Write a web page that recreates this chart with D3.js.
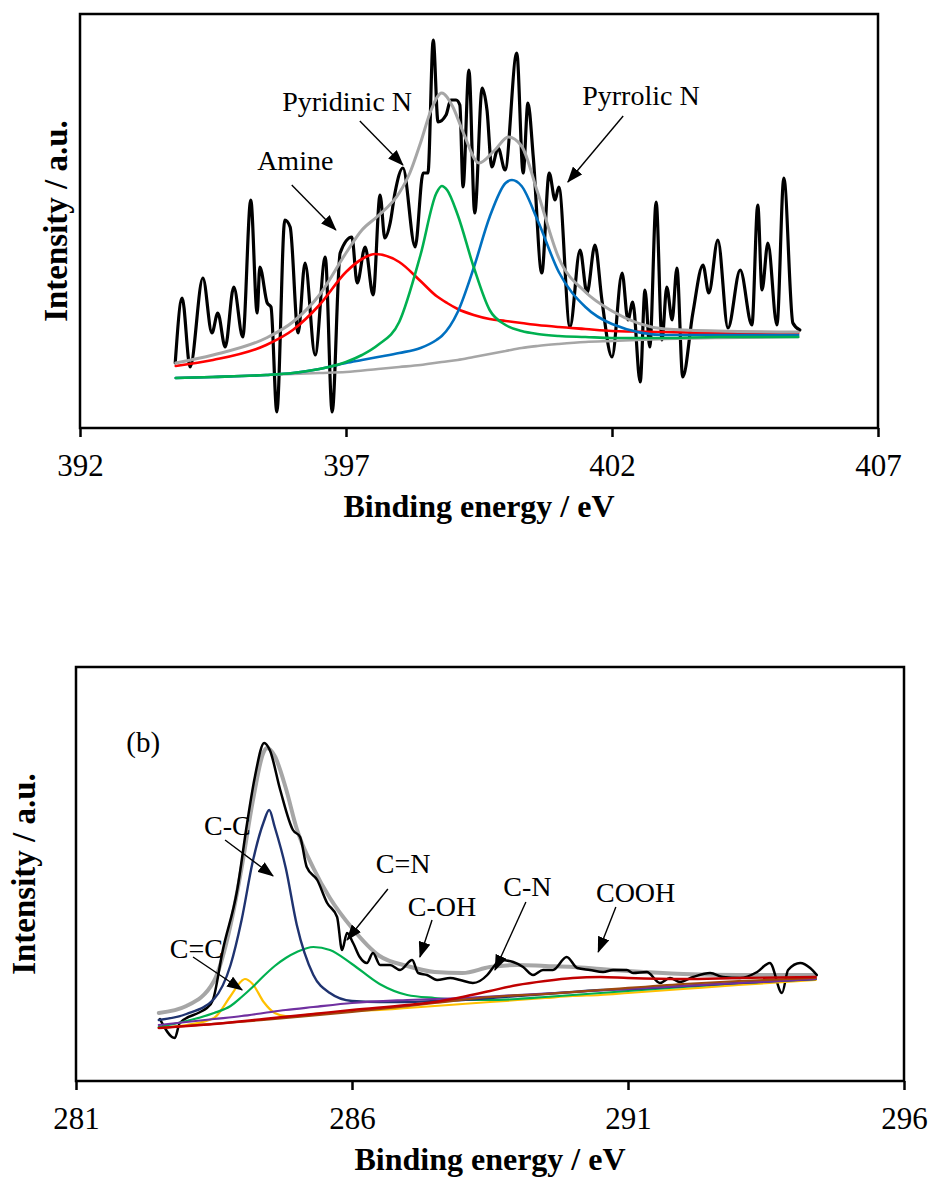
<!DOCTYPE html>
<html>
<head>
<meta charset="utf-8">
<script src="https://cdn.jsdelivr.net/npm/d3@7"></script>
<style>
  body { margin: 0; background: #fff; }
  svg { display: block; }
  text { font-family: "Liberation Serif", "Times New Roman", serif; fill: #000; }
</style>
</head>
<body>
<svg id="chart" width="932" height="1184"></svg>
<script>
// ---------- N 1s spectrum (binding energy eV, intensity a.u.) ----------
const n1sTicks = [392, 397, 402, 407];

const n1sMeasured = [
  [393.79,65],[393.92,130],[394.07,61],[394.31,150],[394.48,95],[394.59,115],[394.73,81],
  [394.89,141],[395.06,91],[395.21,228],[395.33,115],[395.38,161],[395.52,125],[395.59,121],
  [395.70,16],[395.85,208],[395.95,201],[396.10,95],[396.23,165],[396.42,73],[396.61,171],
  [396.74,16],[396.89,175],[397.11,191],[397.21,145],[397.36,181],[397.51,133],[397.64,233],
  [397.73,190],[397.83,205],[397.92,235],[398.07,260],[398.30,181],[398.45,255],[398.54,255],
  [398.64,388],[398.73,306],[398.88,313],[398.97,328],[399.07,328],[399.14,323],[399.20,241],
  [399.31,358],[399.42,215],[399.56,340],[399.65,318],[399.74,261],[399.86,280],[399.99,258],
  [400.21,375],[400.33,255],[400.42,325],[400.52,271],[400.68,155],[400.82,255],[400.93,228],
  [401.00,241],[401.21,101],[401.40,178],[401.53,135],[401.68,183],[401.81,128],[402.00,71],
  [402.19,155],[402.30,108],[402.39,126],[402.53,46],[402.62,138],[402.71,81],[402.83,226],
  [402.94,88],[403.03,141],[403.13,108],[403.22,160],[403.33,51],[403.52,115],[403.71,163],
  [403.82,135],[403.99,188],[404.18,100],[404.41,158],[404.63,103],[404.74,223],[404.82,138],
  [404.93,185],[405.10,103],[405.23,250],[405.40,105],[405.53,98]
];

const n1sEnvelope = [
  [393.8,65],[394.5,73],[395.5,90],[396.0,106],[396.5,133],[397.0,175],[397.3,198],[397.6,212],
  [398.0,235],[398.2,255],[398.4,285],[398.6,318],[398.8,335],[399.0,322],[399.2,296],[399.5,265],
  [399.8,278],[400.05,291],[400.3,282],[400.6,236],[401.0,170],[401.5,136],[402.0,117],[403.0,99],
  [404.0,97],[405.5,96]
];

const n1sBackground = [
  [393.8,50],[394.5,51],[395.5,53],[396.0,54],[396.5,55],[397.0,56],[397.6,59],[398.0,61],
  [398.4,63],[398.8,66],[399.1,68],[399.4,71],[399.7,74],[400.0,77],[400.3,80],[400.6,82],
  [401.0,84],[401.5,86],[402.0,87],[403.0,89],[404.0,90],[405.5,91]
];

const n1sAmine = [
  [393.8,62],[394.5,68],[395.5,83],[396.0,98],[396.5,123],[397.0,156],[397.3,169],[397.55,174],
  [398.0,166],[398.4,147],[398.7,132],[398.9,125],[399.1,119],[399.4,113],[399.7,109],[400.0,107],
  [400.3,105],[400.6,103],[401.0,101],[401.5,99],[402.0,97],[403.0,96],[404.0,95],[405.5,95]
];

const n1sPyridinic = [
  [393.8,50],[394.5,51],[395.5,53],[396.0,55],[396.5,59],[397.0,66],[397.3,73],[397.6,83],
  [398.0,106],[398.4,173],[398.7,235],[398.8,242],[398.9,238],[399.1,213],[399.4,161],[399.7,118],
  [400.0,103],[400.3,97],[400.6,94],[401.0,92],[401.5,91],[402.0,90],[403.0,90],[404.0,91],[405.5,91]
];

const n1sPyrrolic = [
  [393.8,50],[394.5,51],[395.5,53],[396.0,55],[396.5,59],[397.0,65],[397.3,68],[397.6,71],
  [398.0,75],[398.4,80],[398.7,88],[398.8,92],[399.1,116],[399.4,160],[399.7,211],[400.0,245],
  [400.12,248],[400.3,242],[400.6,208],[401.0,156],[401.5,121],[402.0,104],[403.0,93],[404.0,93],
  [405.5,93]
];

const n1sLabels = ["Amine", "Pyridinic N", "Pyrrolic N"];
const n1sLabelAt = [[395.33,258],[395.80,317],[401.44,323]];
const n1sArrowFrom = [[395.98,243],[397.26,307],[402.21,312]];
const n1sArrowTo = [[396.81,198],[398.07,263],[401.17,246]];

// ---------- C 1s spectrum ----------
const c1sTicks = [281, 286, 291, 296];

const c1sMeasured = [
  [282.52,62],[282.79,43],[282.88,58],[283.25,69],[283.37,73],[283.48,81],[283.66,131],
  [283.92,191],[284.10,258],[284.24,304],[284.41,338],[284.51,331],[284.70,291],[284.93,251],
  [285.06,244],[285.18,214],[285.37,201],[285.55,178],[285.73,164],[285.82,131],[285.91,148],
  [286.02,138],[286.14,124],[286.27,118],[286.38,128],[286.51,116],[286.69,116],[286.87,111],
  [287.09,121],[287.20,108],[287.36,106],[287.54,101],[287.78,103],[287.96,101],[288.19,98],
  [288.45,106],[288.59,116],[288.68,121],[288.92,119],[289.10,114],[289.28,106],[289.46,111],
  [289.64,111],[289.89,124],[290.08,113],[290.31,111],[290.55,109],[290.73,111],[290.98,111],
  [291.09,108],[291.34,109],[291.58,98],[291.76,103],[291.94,99],[292.18,104],[292.49,108],
  [292.72,104],[293.03,103],[293.34,109],[293.57,118],[293.79,88],[293.90,111],[294.12,118],
  [294.30,113],[294.42,106]
];

const c1sEnvelope = [
  [282.5,68],[283.0,75],[283.5,100],[283.8,156],[284.0,213],[284.2,279],[284.4,329],[284.46,333],
  [284.6,325],[284.8,293],[285.0,252],[285.3,213],[285.6,183],[286.0,153],[286.5,125],[287.0,115],
  [287.5,109],[288.0,108],[288.5,114],[289.0,116],[289.5,115],[290.0,114],[290.5,112],[291.0,110],
  [292.0,107],[293.0,106],[294.4,106]
];

const c1sCC = [
  [282.5,61],[283.0,67],[283.5,82],[283.8,116],[284.0,161],[284.2,219],[284.4,259],[284.5,271],
  [284.6,254],[284.8,213],[285.0,156],[285.3,106],[285.6,88],[286.0,80],[286.5,79],[287.0,79],
  [287.5,80],[288.0,81],[288.5,83],[289.0,85],[289.5,87],[290.0,89],[290.5,91],[291.0,92],
  [292.0,95],[293.0,98],[294.4,102]
];

const c1sCeqC = [
  [282.5,53],[283.0,56],[283.5,63],[283.8,85],[284.0,100],[284.06,102],[284.2,97],[284.4,79],
  [284.6,68],[284.8,65],[285.0,65],[285.3,67],[285.6,68],[286.0,70],[286.5,71],[287.0,73],
  [287.5,75],[288.0,77],[288.5,79],[289.0,81],[289.5,83],[290.0,85],[290.5,86],[291.0,88],
  [292.0,92],[293.0,96],[294.4,101]
];

const c1sCeqN = [
  [282.5,54],[283.0,60],[283.5,68],[283.8,75],[284.0,84],[284.2,94],[284.4,105],[284.6,115],
  [284.8,123],[285.0,129],[285.3,134],[285.6,131],[286.0,117],[286.5,97],[287.0,86],[287.5,83],
  [288.0,81],[288.5,81],[289.0,82],[289.5,84],[290.0,86],[290.5,88],[291.0,90],[292.0,94],
  [293.0,98],[294.4,102]
];

const c1sCOH = [
  [282.5,56],[283.0,59],[283.5,62],[284.0,65],[284.4,68],[284.8,71],[285.3,74],[286.0,78],
  [287.0,81],[288.0,83],[289.0,86],[290.0,89],[291.0,92],[292.0,95],[293.0,98],[294.4,102]
];

const c1sCN = [
  [282.5,53],[284.4,61],[286.0,69],[287.5,78],[288.5,84],[289.5,87],[290.5,91],[292.0,97],
  [293.0,100],[294.4,103]
];

const c1sCOOH = [
  [282.5,53],[283.5,57],[284.4,62],[285.3,67],[286.0,71],[287.0,76],[287.5,79],[288.0,84],
  [288.5,90],[289.0,96],[289.5,100],[290.0,103],[290.5,104],[291.0,103],[292.0,102],[293.0,103],
  [294.4,104]
];

const c1sLabels = ["C-C", "C=N", "C-OH", "C=C", "C-N", "COOH"];
const c1sLabelAt = [[283.32,246],[286.43,208],[287.01,165],[282.70,123],[288.74,185],[290.42,179]];
const c1sArrowFrom = [[283.70,241],[286.65,192],[287.45,161],[283.12,124],[289.15,179],[290.78,174]];
const c1sArrowTo = [[284.57,205],[285.91,141],[287.23,124],[284.01,91],[288.59,111],[290.46,129]];

// ---------- drawing ----------
const svg = d3.select("#chart");
svg.append("rect").attr("width", 932).attr("height", 1184).attr("fill", "#fff");

svg.append("defs").append("marker")
  .attr("id", "head")
  .attr("viewBox", "0 0 16 12")
  .attr("refX", 15).attr("refY", 6)
  .attr("markerWidth", 16).attr("markerHeight", 12)
  .attr("markerUnits", "userSpaceOnUse")
  .attr("orient", "auto")
  .append("path").attr("d", "M0,0 L16,6 L0,12 Z").attr("fill", "#000");

function drawPanel(p) {
  const x = d3.scaleLinear().domain([p.ticks[0], p.ticks[p.ticks.length - 1]]).range([p.left, p.right]);
  const y = d3.scaleLinear().domain([0, 414]).range([p.bottom, p.top]);
  const g = svg.append("g");

  const line = d3.line().x(d => x(d[0])).y(d => y(d[1])).curve(d3.curveMonotoneX);

  p.series.forEach(s => {
    g.append("path").datum(s.data)
      .attr("d", line)
      .attr("fill", "none")
      .attr("stroke", s.color)
      .attr("stroke-width", s.width)
      .attr("stroke-linejoin", "round")
      .attr("stroke-linecap", "round");
  });

  // frame
  g.append("rect")
    .attr("x", p.left).attr("y", p.top)
    .attr("width", p.right - p.left).attr("height", p.bottom - p.top)
    .attr("fill", "none").attr("stroke", "#000").attr("stroke-width", 2.5);

  // bottom axis
  const ax = g.append("g").attr("transform", `translate(0,${p.bottom})`)
    .call(d3.axisBottom(x).tickValues(p.ticks).tickSize(9).tickFormat(d3.format("d")));
  ax.select(".domain").remove();
  ax.selectAll(".tick line").attr("stroke", "#000").attr("stroke-width", 2.5);
  ax.selectAll(".tick text")
    .attr("y", 48).attr("dy", 0)
    .attr("font-family", "Liberation Serif, Times New Roman, serif")
    .attr("font-size", 31).attr("fill", "#000");

  g.append("text")
    .attr("x", (p.left + p.right) / 2).attr("y", p.bottom + 89)
    .attr("text-anchor", "middle").attr("font-size", 32).attr("font-weight", "bold")
    .text("Binding energy / eV");

  g.append("text")
    .attr("transform", `translate(${p.yTitleX},${(p.top + p.bottom) / 2}) rotate(-90)`)
    .attr("text-anchor", "middle").attr("font-size", 33).attr("font-weight", "bold")
    .text("Intensity / a.u.");

  // annotations
  p.labels.forEach((t, i) => {
    g.append("text")
      .attr("x", x(p.labelAt[i][0])).attr("y", y(p.labelAt[i][1]))
      .attr("font-size", 28).text(t);
    g.append("line")
      .attr("x1", x(p.arrowFrom[i][0])).attr("y1", y(p.arrowFrom[i][1]))
      .attr("x2", x(p.arrowTo[i][0])).attr("y2", y(p.arrowTo[i][1]))
      .attr("stroke", "#000").attr("stroke-width", 1.4)
      .attr("marker-end", "url(#head)");
  });

  if (p.tag) {
    g.append("text")
      .attr("x", x(p.tag.at[0])).attr("y", y(p.tag.at[1]))
      .attr("font-size", 29).text(p.tag.text);
  }
}

drawPanel({
  ticks: n1sTicks, left: 80, right: 878, top: 14, bottom: 428, yTitleX: 67,
  series: [
    { data: n1sMeasured, color: "#000000", width: 3.2 },
    { data: n1sBackground, color: "#a6a6a6", width: 2.6 },
    { data: n1sAmine, color: "#ff0000", width: 2.6 },
    { data: n1sPyrrolic, color: "#0070c0", width: 2.6 },
    { data: n1sPyridinic, color: "#00b050", width: 2.6 },
    { data: n1sEnvelope, color: "#a6a6a6", width: 3 }
  ],
  labels: n1sLabels, labelAt: n1sLabelAt, arrowFrom: n1sArrowFrom, arrowTo: n1sArrowTo
});

drawPanel({
  ticks: c1sTicks, left: 76, right: 904, top: 667, bottom: 1081, yTitleX: 35,
  series: [
    { data: c1sEnvelope, color: "#a6a6a6", width: 4 },
    { data: c1sMeasured, color: "#000000", width: 2.5 },
    { data: c1sCeqC, color: "#ffc000", width: 2.2 },
    { data: c1sCeqN, color: "#00b050", width: 2.2 },
    { data: c1sCC, color: "#1f3370", width: 2.4 },
    { data: c1sCOH, color: "#7030a0", width: 2.2 },
    { data: c1sCN, color: "#9e480e", width: 2.2 },
    { data: c1sCOOH, color: "#c00000", width: 2.4 }
  ],
  labels: c1sLabels, labelAt: c1sLabelAt, arrowFrom: c1sArrowFrom, arrowTo: c1sArrowTo,
  tag: { text: "(b)", at: [281.91, 329] }
});
</script>
</body>
</html>
